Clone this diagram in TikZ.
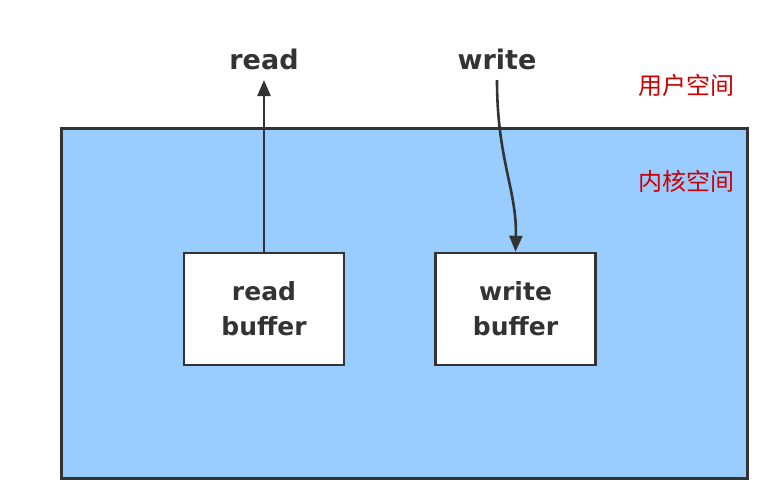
\documentclass[tikz,border=0pt]{standalone}
\usepackage{fontspec}
\setmainfont{DejaVu Sans}
\newfontfamily\cjk{Noto Sans CJK SC}
\usetikzlibrary{arrows.meta}
\definecolor{kfill}{HTML}{99CCFF}
\definecolor{ink}{HTML}{333333}
\definecolor{cnred}{HTML}{CC0000}
\begin{document}
\begin{tikzpicture}[x=1pt,y=-1pt,
  lbl/.style={font=\bfseries\fontsize{27}{30}\selectfont, text=ink, inner sep=0pt},
  bufbox/.style={draw=ink, line width=2.5pt, fill=white, minimum width=160pt, minimum height=112pt, align=center, font=\bfseries\fontsize{25}{35}\selectfont, text=ink},
  zone/.style={font=\cjk\fontsize{24}{26}\selectfont, text=cnred, inner sep=0pt},
  conn/.style={draw=ink, line width=2.6pt, -{Triangle[length=16pt,width=13pt]}}]
\useasboundingbox (0,0) rectangle (779,498);
\node[draw=ink, line width=3pt, fill=kfill, minimum width=686pt, minimum height=350pt, anchor=north west] (kernel) at (60,127) {};
\node[bufbox] (rb) at (264,309) {read\\buffer};
\node[bufbox] (wb) at (515.5,309) {write\\buffer};
\node[lbl] (r) at (264,59) {read};
\node[lbl] (w) at (497,59) {write};
\node[zone] (u) at (686,85) {用户空间};
\node[zone] (k) at (686,181) {内核空间};
\coordinate (rt) at (264,80);
\coordinate (ws) at (497,80);
\draw[conn] (rb.north) -- (rt);
\draw[conn] (ws) .. controls (497,160) and (517,190) .. (wb.north);
\end{tikzpicture}
\end{document}
